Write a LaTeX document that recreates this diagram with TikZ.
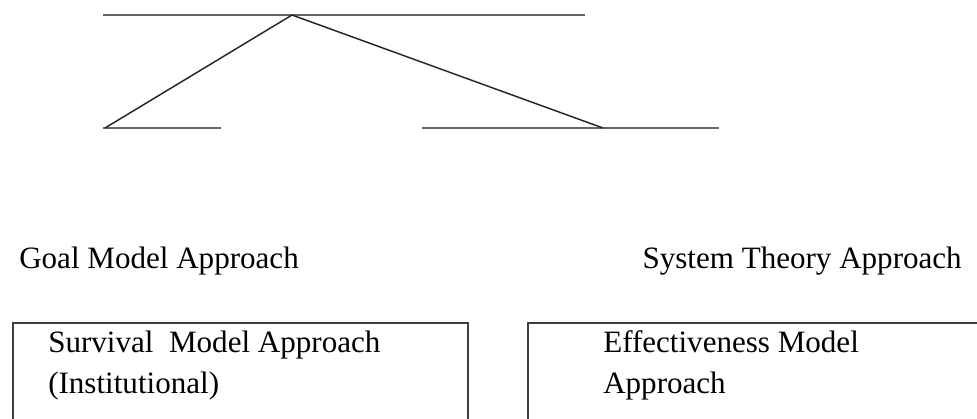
\documentclass[tikz,border=0pt]{standalone}
\usepackage{fontspec}
\setmainfont{Liberation Serif}
\usetikzlibrary{positioning}

\begin{document}
\begin{tikzpicture}[x=0.75pt, y=-0.75pt,
    every node/.style={font=\fontsize{23.3}{31.5}\selectfont, inner sep=0pt},
    bar/.style={draw=gray!80!black, line width=2pt},
    branch/.style={draw=black!85, line width=1.1pt},
    frame/.style={draw=black!75, line width=1.6pt, minimum height=90pt}]
  \useasboundingbox (0,0) rectangle (977,418);
  % tree of lines
  \coordinate (topL) at (103,15);
  \coordinate (apex) at (292,15);
  \coordinate (topR) at (585,15);
  \coordinate (leftA) at (103,128);
  \coordinate (leftfoot) at (105,128);
  \coordinate (leftB) at (221,128);
  \coordinate (rightA) at (422,128);
  \coordinate (rightfoot) at (603,128);
  \coordinate (rightB) at (719,128);
  \draw[bar] (topL) -- (topR);
  \draw[bar] (leftA) -- (leftB);
  \draw[bar] (rightA) -- (rightB);
  \draw[branch] (apex) -- (leftfoot);
  \draw[branch] (apex) -- (rightfoot);
  % approaches
  \node[anchor=base west] (goal) at (19,268) {Goal Model Approach};
  \node[anchor=base east] (system) at (962,268) {System Theory Approach};
  \node[frame, anchor=north west, minimum width=341.25pt] (survbox) at (12,322) {};
  \node[anchor=base west] (surv) at (48,352) {Survival\ \ Model Approach};
  \node[anchor=base west] (inst) at (48,393) {(Institutional)};
  \node[frame, anchor=north west, minimum width=352.5pt] (effbox) at (527,322) {};
  \node[anchor=base west] (eff) at (603,352) {Effectiveness Model};
  \node[anchor=base west] (effap) at (603,393) {Approach};
\end{tikzpicture}
\end{document}
